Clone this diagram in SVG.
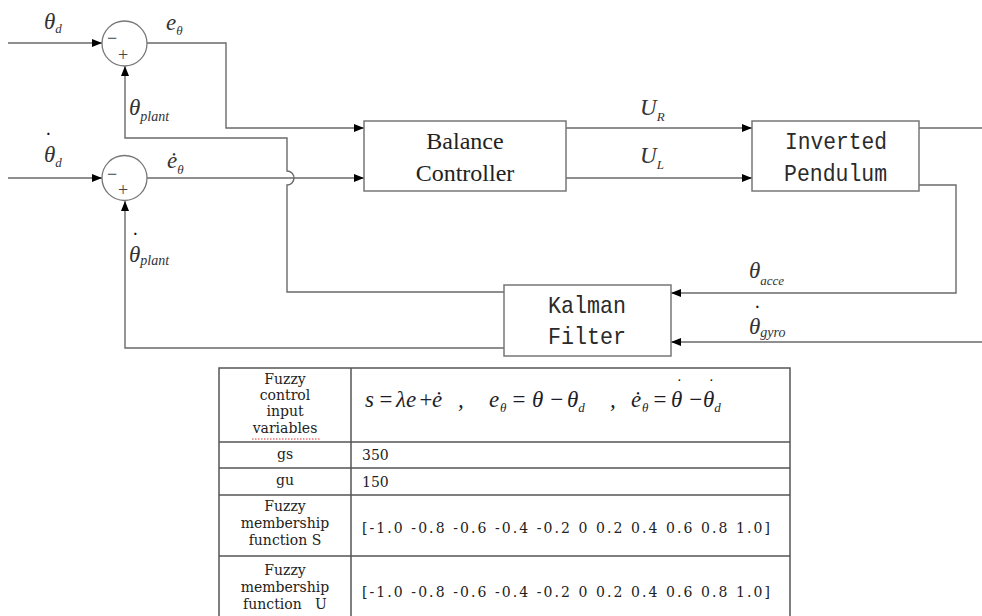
<svg xmlns="http://www.w3.org/2000/svg" width="982" height="616" viewBox="0 0 982 616">
<style>
.ln{fill:none;stroke:#6a6a6a;stroke-width:1.4}
.bx{fill:#fff;stroke:#777;stroke-width:1.5}
.sum{fill:#fff;stroke:#777;stroke-width:1.3}
.m{font-family:"Liberation Serif","Times New Roman",serif;font-style:italic;fill:#333}
.dot{font-style:normal;font-weight:bold;fill:#111}
.sg{font-family:"Liberation Serif",serif;fill:#444;font-size:18px}
.mono{font-family:"Liberation Mono","DejaVu Sans Mono",monospace;fill:#2a2a2a}
.tb{fill:none;stroke:#555;stroke-width:1.5}
.tt{font-family:"DejaVu Serif","Liberation Serif",serif;fill:#222;font-size:14px}
.fm{font-family:"Liberation Serif","Times New Roman",serif;font-style:italic;fill:#1e1e2a;font-size:23px}
.fs{font-family:"Liberation Serif","Times New Roman",serif;font-style:italic;fill:#1e1e2a;font-size:13px}
</style>
<defs>
<marker id="ah" viewBox="0 0 10 10" refX="10" refY="5" markerWidth="10" markerHeight="10" markerUnits="userSpaceOnUse" orient="auto">
<path d="M0,1 L10,5 L0,9 z" fill="#000"/>
</marker>
</defs>

<g id="connectors">
<path class="ln" d="M8,43 L102,43" marker-end="url(#ah)"/>
<path class="ln" d="M8,178 L102,178" marker-end="url(#ah)"/>
<path class="ln" d="M147,43 L226,43 L226,128 L364,128" marker-end="url(#ah)"/>
<path class="ln" d="M147,178 L364,178" marker-end="url(#ah)"/>
<path class="ln" d="M504,292 L287,292 L287,185 A6,6 0 0 0 287,171 L287,138 L125,138 L125,66" marker-end="url(#ah)"/>
<path class="ln" d="M504,348 L125,348 L125,201" marker-end="url(#ah)"/>
<path class="ln" d="M566,128 L752,128" marker-end="url(#ah)"/>
<path class="ln" d="M566,178 L752,178" marker-end="url(#ah)"/>
<path class="ln" d="M919,128 L982,128"/>
<path class="ln" d="M919,185 L956,185 L956,293 L671,293" marker-end="url(#ah)"/>
<path class="ln" d="M982,342 L671,342" marker-end="url(#ah)"/>
</g>

<g id="sum1">
<circle class="sum" cx="124.5" cy="43.5" r="22.5"/>
<text class="sg" x="107" y="44">−</text>
<text class="sg" x="118" y="61">+</text>
</g>
<g id="sum2">
<circle class="sum" cx="124.5" cy="178" r="22.5"/>
<text class="sg" x="107" y="180">−</text>
<text class="sg" x="118" y="196">+</text>
</g>

<g id="balance">
<rect class="bx" x="364" y="121" width="202" height="70"/>
<text font-family="Liberation Serif, Times New Roman, serif" fill="#222" x="465" y="149" font-size="24" text-anchor="middle">Balance</text>
<text font-family="Liberation Serif, Times New Roman, serif" fill="#222" x="465" y="181" font-size="24" text-anchor="middle">Controller</text>
</g>
<g id="pendulum">
<rect class="bx" x="752" y="121" width="167" height="70"/>
<text class="mono" x="785" y="149" font-size="24" textLength="102" lengthAdjust="spacingAndGlyphs">Inverted</text>
<text class="mono" x="784" y="181" font-size="24" textLength="103" lengthAdjust="spacingAndGlyphs">Pendulum</text>
</g>
<g id="kalman">
<rect class="bx" x="504" y="285" width="167" height="71"/>
<text class="mono" x="548" y="313" font-size="24" textLength="78" lengthAdjust="spacingAndGlyphs">Kalman</text>
<text class="mono" x="548" y="344" font-size="24" textLength="78" lengthAdjust="spacingAndGlyphs">Filter</text>
</g>

<g id="labels">
<text class="m" x="44" y="29" font-size="23">θ<tspan font-size="13" dy="4">d</tspan></text>
<text class="m" x="166" y="30" font-size="23">e<tspan font-size="13" dy="5">θ</tspan></text>
<text class="m" x="129" y="115" font-size="23">θ<tspan font-size="14" dy="6">plant</tspan></text>
<text class="m" font-size="23"><tspan class="dot" x="46" y="139" font-size="14">·</tspan><tspan x="44" y="162">θ</tspan><tspan font-size="13" dy="5">d</tspan></text>
<text class="m" x="167" y="168" font-size="23">ė<tspan font-size="13" dy="6">θ</tspan></text>
<text class="m" font-size="23"><tspan class="dot" x="133" y="239" font-size="14">·</tspan><tspan x="129" y="262">θ</tspan><tspan font-size="14" dy="3">plant</tspan></text>
<text class="m" x="640" y="115" font-size="23">U<tspan font-size="13" dy="6">R</tspan></text>
<text class="m" x="640" y="163" font-size="23">U<tspan font-size="13" dy="6">L</tspan></text>
<text class="m" x="749" y="278" font-size="23">θ<tspan font-size="13" dy="7">acce</tspan></text>
<text class="m" font-size="23"><tspan class="dot" x="755" y="312" font-size="14">·</tspan><tspan x="749" y="334">θ</tspan><tspan font-size="14" dy="3">gyro</tspan></text>
</g>

<g id="table">
<rect class="tb" x="219" y="368" width="571" height="260"/>
<path class="tb" d="M351,368 L351,628 M219,442 L790,442 M219,468 L790,468 M219,495 L790,495 M219,556 L790,556"/>
<text class="tt" text-anchor="middle"><tspan x="285" y="384">Fuzzy</tspan><tspan x="285" y="400">control</tspan><tspan x="285" y="416">input</tspan><tspan x="285" y="433">variables</tspan></text>
<path d="M252,439 L320,439" stroke="#d33" stroke-width="1" stroke-dasharray="1.5,1.5" fill="none"/>
<text class="fm" x="365" y="407">s</text>
<text class="fm" x="378" y="407">=</text>
<text class="fm" x="396" y="407">λe</text>
<text class="fm" x="418" y="407">+</text>
<text class="fm" x="432" y="407">ė</text>
<text class="fm" x="458" y="407">,</text>
<text class="fm" x="489" y="407">e</text>
<text class="fs" x="500" y="412">θ</text>
<text class="fm" x="511" y="407">=</text>
<text class="fm" x="532" y="407">θ</text>
<text class="fm" x="549" y="407">−</text>
<text class="fm" x="567" y="407">θ<tspan font-size="13" dy="5">d</tspan></text>
<text class="fm" x="610" y="407">,</text>
<text class="fm" x="631" y="407">ė</text>
<text class="fs" x="642" y="412">θ</text>
<text class="fm" x="652" y="407">=</text>
<text class="fm"><tspan class="dot" x="677.5" y="383.5" font-size="11">·</tspan><tspan x="671" y="407">θ</tspan></text>
<text class="fm" x="688" y="407">−</text>
<text class="fm"><tspan class="dot" x="709.5" y="383.5" font-size="11">·</tspan><tspan x="703" y="407">θ</tspan><tspan font-size="13" dy="5">d</tspan></text>
<text class="tt" x="285" y="459" text-anchor="middle">gs</text>
<text class="tt" x="362" y="460">350</text>
<text class="tt" x="285" y="485" text-anchor="middle">gu</text>
<text class="tt" x="362" y="487">150</text>
<text class="tt" text-anchor="middle"><tspan x="285" y="511">Fuzzy</tspan><tspan x="285" y="528">membership</tspan><tspan x="285" y="545">function S</tspan></text>
<text class="tt" x="362" y="533" textLength="408" lengthAdjust="spacing">[-1.0 -0.8 -0.6 -0.4 -0.2 0 0.2 0.4 0.6 0.8 1.0]</text>
<text class="tt" text-anchor="middle" xml:space="preserve"><tspan x="285" y="575">Fuzzy</tspan><tspan x="285" y="592">membership</tspan><tspan x="285" y="609">function   U</tspan></text>
<text class="tt" x="362" y="597" textLength="408" lengthAdjust="spacing">[-1.0 -0.8 -0.6 -0.4 -0.2 0 0.2 0.4 0.6 0.8 1.0]</text>
</g>
</svg>
